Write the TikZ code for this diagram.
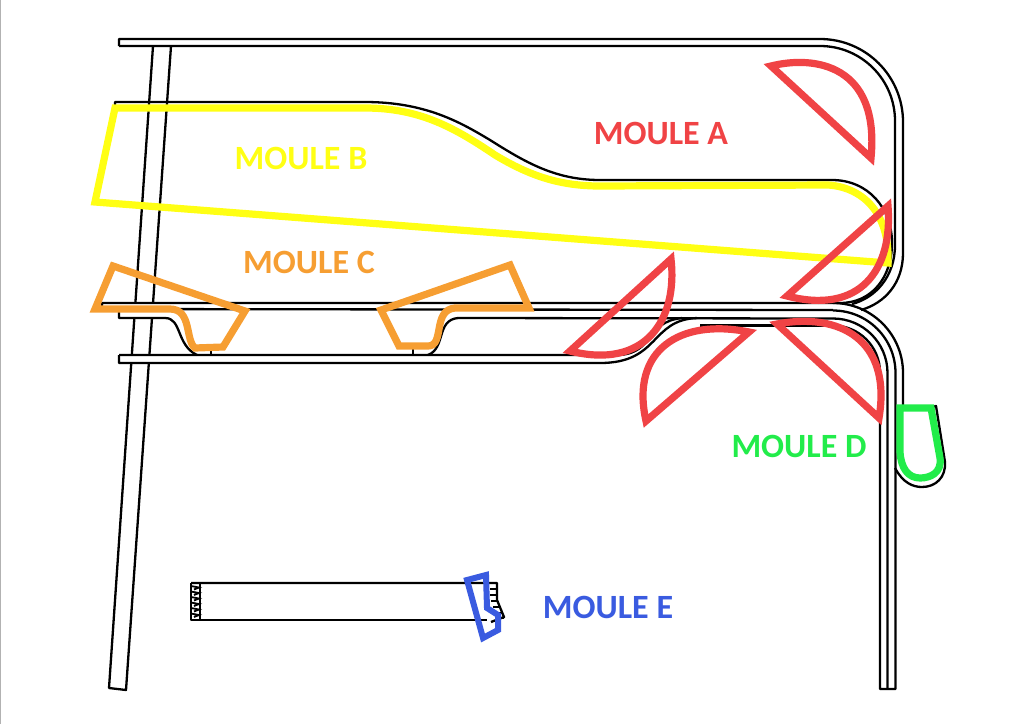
\documentclass[tikz,border=0pt]{standalone}
\usepackage{fontspec}
\setmainfont{Carlito}
\definecolor{mred}{HTML}{F04345}
\definecolor{myellow}{HTML}{FFFF14}
\definecolor{morange}{HTML}{F69E32}
\definecolor{mgreen}{HTML}{22EC4A}
\definecolor{mblue}{HTML}{3A5BE0}
\tikzset{
  wall/.style={draw=black,line width=2.3pt,line join=round},
  thin wall/.style={draw=black,line width=1.5pt},
  zone/.style={line width=7.2pt,line join=miter,miter limit=3},
  mlabel/.style={font=\fontsize{34}{34}\selectfont\bfseries,inner sep=0pt}
}
\begin{document}
\begin{tikzpicture}[x=1pt,y=-1pt]
\useasboundingbox (0,0) rectangle (1024,724);
\draw[gray!60,line width=1pt] (0.5,0) -- (0.5,724);
% slanted rail
\path[wall] (153,46) -- (109,688) -- (126,690) -- (171,46);
% band interiors hide the rail
\fill[white] (125,303) rectangle (160,318);
\fill[white] (120,355) rectangle (155,363);
% top band
\path[wall] (119,46) -- (119,39) -- (820,39) arc[start angle=-90,end angle=0,radius=83] -- (903,253)
  .. controls (903,283) and (885,303) .. (861,310);
\path[wall] (119,46) -- (820,46) arc[start angle=-90,end angle=0,radius=75] -- (895,245)
  .. controls (895,277) and (875,298) .. (852,304);
% moule B cavity line
\path[wall] (115,108) -- (115,102) -- (365,102)
  .. controls (425,102) and (460,122) .. (490,140)
  .. controls (525,162) and (555,180) .. (600,180) -- (832,180)
  .. controls (868,180) and (892,208) .. (892,243)
  .. controls (892,277) and (872,303) .. (840,303) -- (102,303) -- (102,309);
% middle band
\path[wall] (102,309) -- (833,310);
% bundle of concentric bends
\path[wall] (833,303) arc[start angle=-90,end angle=0,radius=70] -- (903,408);
\path[wall] (833,310.5) arc[start angle=-90,end angle=0,radius=62.5] -- (895.5,689) -- (880,689) -- (880,373);
\path[wall] (833,318.5) arc[start angle=-90,end angle=0,radius=54.5] -- (887.5,689);
\path[wall] (833,325.5) arc[start angle=-90,end angle=0,radius=47];
\path[wall] (119,309) -- (119,318) -- (165,318)
  .. controls (182,318) and (176,345) .. (197,355);
\path[wall] (458,318) .. controls (436,320) and (446,348) .. (428,355);
\path[wall] (458,318) -- (833,318.5);
\path[wall] (700,325.5) -- (833,325.5);
% lower band
\path[wall] (119,355) -- (119,363) -- (600,363) .. controls (660,363) and (650,320) .. (697,318);
\path[wall] (119,355) -- (620,355) .. controls (655,352) and (645,322) .. (682,318);
\path[thin wall] (211,345) -- (211,355);
\path[thin wall] (413,346) -- (413,355);
% bulb
\path[wall] (895,468) .. controls (903,483) and (913,487) .. (922,487)
  .. controls (936,487) and (946,477) .. (945,462) -- (936,406) -- (928,408);
% moule E piece
\path[wall] (191,583) -- (497,583) -- (497,600) -- (504,617) -- (491,622);
\path[wall] (191,583) -- (191,620) -- (487,620);
\path[thin wall] (200,583) -- (200,620);
\foreach \yy in {586,591.5,597,602.5,608,613.5}{
  \path[draw=black,line width=1.8pt] (191,\yy) -- (199,\yy+1.5) -- (194,\yy+3.5);
}
\foreach \yy/\xx in {589/497,595/497,601/498,607/500,613/502,618/504}{
  \path[draw=black,line width=1.8pt] (\xx-7,\yy) -- (\xx,\yy);
}
% coloured zones
\path[zone,draw=myellow] (115,108) -- (365,108)
  .. controls (420,108) and (455,128) .. (495,155)
  .. controls (530,176) and (560,186) .. (600,186) -- (828,185)
  .. controls (860,187) and (890,210) .. (888,263) -- (95,202) -- cycle;
\path[zone,draw=mred] (771,66) .. controls (815,55) and (880,65) .. (871,158) -- cycle;
\path[zone,draw=mred] (888,206) .. controls (893,270) and (860,315) .. (787,296) -- cycle;
\path[zone,draw=mred] (671,259) .. controls (678,320) and (645,370) .. (570,351) -- cycle;
\path[zone,draw=mred] (646,421) .. controls (630,350) and (680,318) .. (749,332) -- cycle;
\path[zone,draw=mred] (777,324) .. controls (840,312) and (892,340) .. (879,418) -- cycle;
\path[zone,draw=morange] (113,266) -- (245,311) -- (223,347) -- (195,348)
  .. controls (185,340) and (192,309) .. (170,309) -- (95,309) -- cycle;
\path[zone,draw=morange] (510,265) -- (529,308) -- (455,308)
  .. controls (432,310) and (445,346) .. (428,346) -- (399,346) -- (381,310) -- cycle;
\path[zone,draw=mgreen] (900,408) -- (931,408) -- (940,458)
  .. controls (942,473) and (930,478) .. (920,478)
  .. controls (908,478) and (901,468) .. (900,452) -- cycle;
\path[zone,draw=mblue,line width=6pt] (467,580) -- (486,575) -- (487,608) -- (498,615) -- (498,630) -- (483,638) -- cycle;
% labels
\node[mlabel,text=mred] (la) at (661,133) {MOULE A};
\node[mlabel,text=myellow] (lb) at (301,158) {MOULE B};
\node[mlabel,text=morange] (lc) at (309,262) {MOULE C};
\node[mlabel,text=mgreen] (ld) at (799,446) {MOULE D};
\node[mlabel,text=mblue] (le) at (608,607) {MOULE E};
\end{tikzpicture}
\end{document}
